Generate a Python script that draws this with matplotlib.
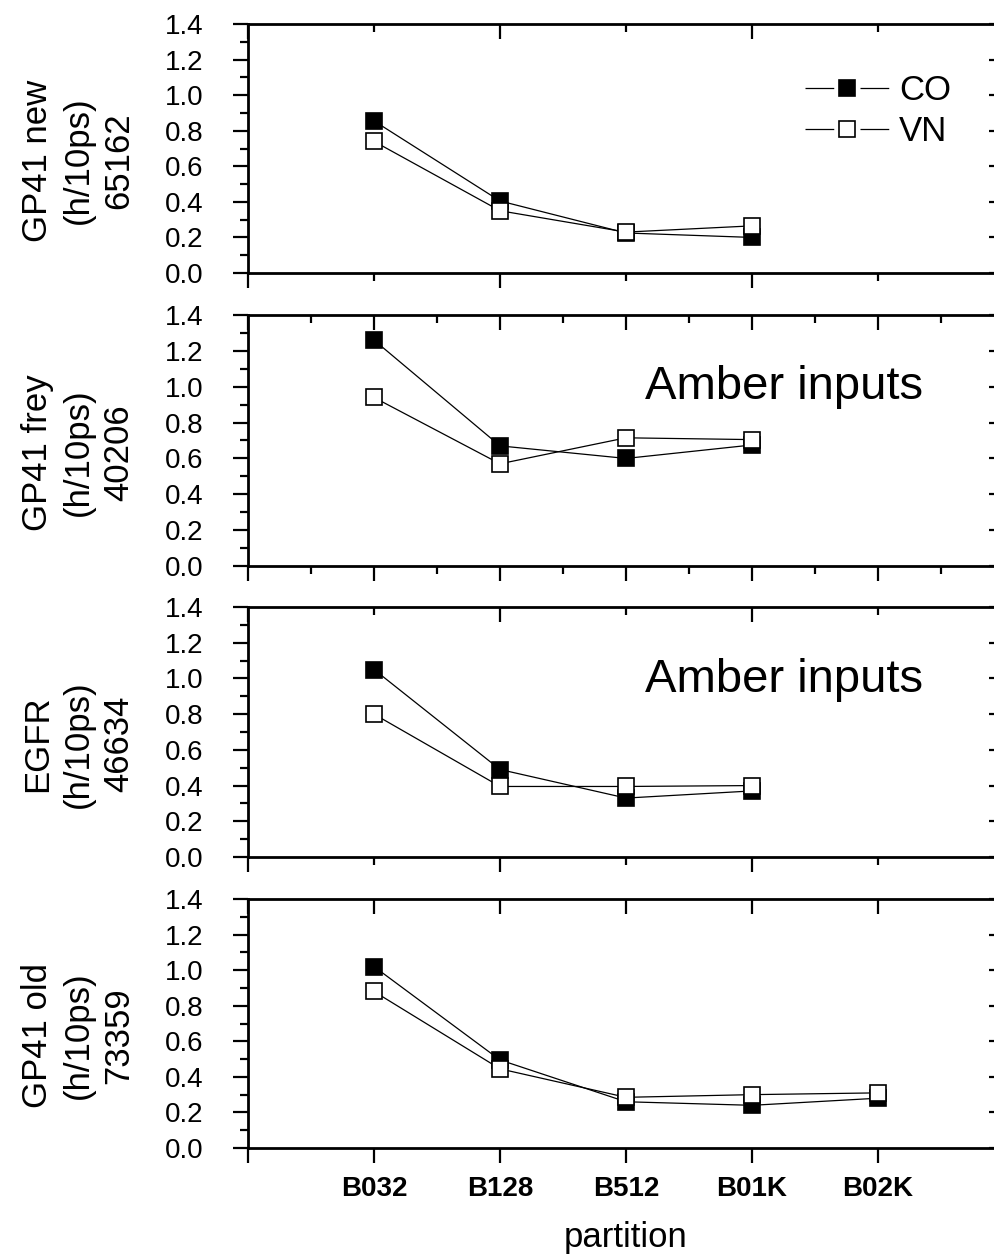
import numpy as np
import matplotlib.pyplot as plt
from matplotlib.lines import Line2D
from matplotlib.ticker import MultipleLocator, NullFormatter

plt.rcParams['font.family'] = ['Liberation Sans', 'DejaVu Sans']

# data
partitions = ['B032', 'B128', 'B512', 'B01K', 'B02K']
co_gp41_new = [0.855, 0.405, 0.225, 0.20]
vn_gp41_new = [0.74, 0.35, 0.23, 0.265]
co_gp41_frey = [1.26, 0.67, 0.60, 0.675]
vn_gp41_frey = [0.94, 0.57, 0.715, 0.705]
co_egfr = [1.05, 0.49, 0.33, 0.37]
vn_egfr = [0.80, 0.395, 0.395, 0.40]
co_gp41_old = [1.02, 0.495, 0.26, 0.24, 0.28]
vn_gp41_old = [0.88, 0.445, 0.285, 0.30, 0.31]

co_all = [co_gp41_new, co_gp41_frey, co_egfr, co_gp41_old]
vn_all = [vn_gp41_new, vn_gp41_frey, vn_egfr, vn_gp41_old]
ylabels = ['GP41 new\n(h/10ps)\n65162', 'GP41 frey\n(h/10ps)\n40206',
           'EGFR\n(h/10ps)\n46634', 'GP41 old\n(h/10ps)\n73359']
notes = [None, 'Amber inputs', 'Amber inputs', None]
# x tick style: major step, minor step
xstep = [(2, 1), (1, 0.5), (2, 1), (1, None)]

W, H = 995, 1258
fig = plt.figure(figsize=(W / 100, H / 100), dpi=100)

# panel pixel extents (top, bottom)
panels = [(24, 273), (315, 566), (607, 857), (899, 1148)]
left_px, width_px = 248, 756

for i, (top, bot) in enumerate(panels):
    ax = fig.add_axes([left_px / W, 1 - bot / H, width_px / W, (bot - top) / H])
    co = co_all[i]
    vn = vn_all[i]
    x = np.arange(1, len(co) + 1)
    ax.plot(x, co, color='black', lw=0.9, marker='s', ms=11, mfc='black',
            mec='black', mew=1.2, clip_on=False)
    ax.plot(x, vn, color='black', lw=0.9, marker='s', ms=11, mfc='white',
            mec='black', mew=1.2, clip_on=False)

    ax.set_xlim(0, 6)
    ax.set_ylim(0, 1.4)
    for s in ax.spines.values():
        s.set_linewidth(2)

    ax.yaxis.set_minor_locator(MultipleLocator(0.1))
    ax.set_yticks(np.arange(0, 1.41, 0.2))
    ax.set_yticklabels(['%.1f' % v for v in np.arange(0, 1.41, 0.2)])

    maj, mnr = xstep[i]
    ax.xaxis.set_major_locator(MultipleLocator(maj))
    if mnr:
        ax.xaxis.set_minor_locator(MultipleLocator(mnr))
    if i == 3:
        ax.set_xticks(range(0, 7))
        ax.set_xticklabels([''] + partitions + [''], fontweight='bold', fontsize=20)
        ax.set_xlabel('partition', fontsize=25, labelpad=14)
    else:
        ax.xaxis.set_major_formatter(NullFormatter())

    ax.tick_params(which='both', width=1.6, top=True, right=True)
    ax.tick_params(axis='x', which='major', direction='out', length=11, pad=9)
    ax.tick_params(axis='x', which='minor', direction='out', length=5.5)
    ax.tick_params(axis='y', which='major', direction='out', length=11, pad=21,
                   labelsize=20)
    ax.tick_params(axis='y', which='minor', direction='out', length=5.5)
    # top / right ticks point inward
    for t in ax.xaxis.get_major_ticks() + ax.xaxis.get_minor_ticks():
        t.tick2line.set_marker(3)
    for t in ax.yaxis.get_major_ticks() + ax.yaxis.get_minor_ticks():
        t.tick2line.set_marker(0)

    ax.text(-0.2249, 0.452, ylabels[i], transform=ax.transAxes, rotation=90,
            ha='center', va='center', multialignment='center', fontsize=25,
            linespacing=1.28)

    if notes[i]:
        ax.text(0.525, 0.665 if i == 1 else 0.661, notes[i], transform=ax.transAxes,
                fontsize=34, ha='left', va='baseline')

    if i == 0:
        # legend handles: line with a gap around the marker
        gap_line = dict(color='black', lw=0.9, dashes=(23, 21))
        h_co = (Line2D([], [], **gap_line),
                Line2D([], [], ls='none', marker='s', ms=11, mfc='black',
                       mec='black', mew=1.2))
        h_vn = (Line2D([], [], **gap_line),
                Line2D([], [], ls='none', marker='s', ms=11, mfc='white',
                       mec='black', mew=1.2))
        ax.legend([h_co, h_vn], ['CO', 'VN'], loc='upper left',
                  bbox_to_anchor=(0.737, 0.80), frameon=False,
                  fontsize=25, handlelength=2.4, handletextpad=0.3,
                  labelspacing=0.25, borderpad=0, borderaxespad=0)

fig.savefig('out.png', dpi=100)
